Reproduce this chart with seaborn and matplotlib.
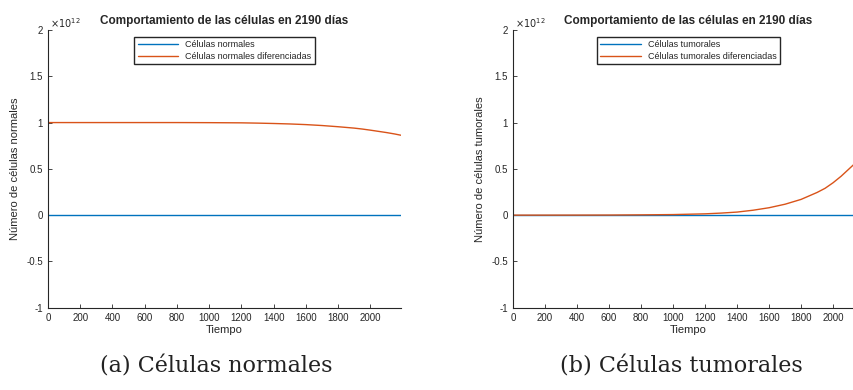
import numpy as np
import pandas as pd
import seaborn as sns
import matplotlib.pyplot as plt
from matplotlib.ticker import FuncFormatter

# valores (en unidades de 1e12)
dias = [0, 200, 400, 600, 800, 1000, 1200, 1300, 1400, 1500, 1600, 1700, 1800, 1900, 1950, 2000, 2050, 2100, 2150, 2190]
normales = [0] * len(dias)
normales_dif = [1.0, 1.0, 1.0, 1.0, 1.0, 0.999, 0.997, 0.994, 0.99, 0.985, 0.978, 0.968, 0.955, 0.94, 0.93, 0.918, 0.905, 0.892, 0.877, 0.863]
tumorales = [0] * len(dias)
tumorales_dif = [0, 0.0002, 0.0005, 0.001, 0.003, 0.006, 0.014, 0.022, 0.033, 0.053, 0.08, 0.118, 0.17, 0.245, 0.29, 0.35, 0.42, 0.5, 0.58, 0.66]

azul = '#0072BD'
naranja = '#D95319'

sns.set_style("ticks")
plt.rcParams['font.family'] = ['Liberation Sans', 'DejaVu Sans']
plt.rcParams['axes.unicode_minus'] = False
plt.rcParams['xtick.direction'] = 'in'
plt.rcParams['ytick.direction'] = 'in'

df = pd.DataFrame({'dias': dias, 'n': normales, 'nd': normales_dif,
                   't': tumorales, 'td': tumorales_dif})

fig = plt.figure(figsize=(8.54, 3.9), dpi=100)
ax1 = fig.add_axes([48/854, 1-307.7/390, 353/854, 277.7/390])
ax2 = fig.add_axes([513/854, 1-307.7/390, 350.5/854, 277.7/390])

paneles = [(ax1, 'n', 'nd', 'Células normales', 'Células normales diferenciadas',
            'Número de células normales', '(a) Células normales', 216),
           (ax2, 't', 'td', 'Células tumorales', 'Células tumorales diferenciadas',
            'Número de células tumorales', '(b) Células tumorales', 681)]

for ax, c1, c2, l1, l2, ylab, cap, cx in paneles:
    sns.lineplot(data=df, x='dias', y=c1, ax=ax, color=azul, linewidth=1.0, label=l1)
    sns.lineplot(data=df, x='dias', y=c2, ax=ax, color=naranja, linewidth=1.0, label=l2)
    ax.set_xlim(0, 2190)
    ax.set_ylim(-1, 2)
    ax.set_xticks(range(0, 2001, 200))
    ax.set_yticks(np.arange(-1, 2.01, 0.5))
    ax.yaxis.set_major_formatter(FuncFormatter(lambda v, p: '%g' % v))
    ax.text(0.005, 1.0, r'$\times10^{12}$', transform=ax.transAxes, fontsize=7,
            color='#262626', ha='left', va='bottom')
    ax.tick_params(labelsize=7, length=3, width=0.6, colors='#262626')
    for s in ['top', 'right']:
        ax.spines[s].set_visible(False)
    for s in ['left', 'bottom']:
        ax.spines[s].set_linewidth(0.8)
        ax.spines[s].set_color('#262626')
    ax.set_xlabel('Tiempo', fontsize=8, labelpad=2, color='#262626')
    ax.set_ylabel(ylab, fontsize=8, labelpad=5, color='#262626')
    ax.set_title('Comportamiento de las células en 2190 días', fontsize=8.5,
                 fontweight='bold', pad=4)
    ax.legend(loc='upper center', bbox_to_anchor=(0.5, 0.99), fontsize=6.5,
              frameon=True, fancybox=False, edgecolor='#262626', framealpha=1,
              handlelength=4.5, borderpad=0.35, labelspacing=0.3)
    fig.text(cx/854, 1-367/390, cap, ha='center', va='center',
             fontsize=16, family='DejaVu Serif', color='#222222')

fig.savefig('out.png', dpi=100)
